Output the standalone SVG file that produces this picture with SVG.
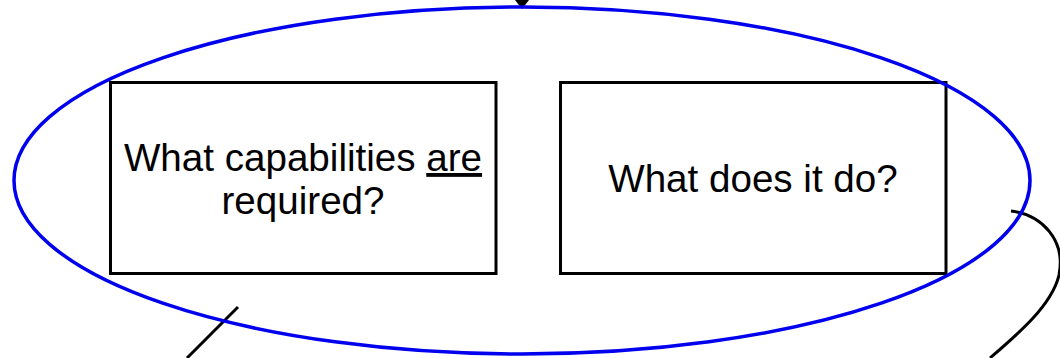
<svg xmlns="http://www.w3.org/2000/svg" width="1060" height="358" viewBox="0 0 1060 358">
<style>
.box{fill:#fff;stroke:#000;stroke-width:3}
.lbl{font-family:"Liberation Sans",Arial,sans-serif;font-size:38.6px;fill:#000;text-anchor:middle}
.conn{fill:none;stroke:#000;stroke-width:3}
</style>
<rect width="1060" height="358" fill="#fff"/>
<g id="connectors">
<path class="conn" d="M522,0 V4"/>
<polygon points="515,0 529,0 522,9" fill="#000"/>
<path class="conn" d="M1011,211 C1042,215 1066,240 1059,275 C1052,305 1018,334 990,358"/>
<path class="conn" d="M238,307 L187,358"/>
</g>
<g id="node-left">
<rect class="box" x="110.5" y="82.5" width="385.5" height="191"/>
<text class="lbl" x="303" y="171">What capabilities <tspan text-decoration="underline">are</tspan></text>
<text class="lbl" x="303" y="214">required?</text>
</g>
<g id="node-right">
<rect class="box" x="560.5" y="82.5" width="385.5" height="191"/>
<text class="lbl" x="753" y="192">What does it do?</text>
</g>
<g id="group-ellipse">
<ellipse cx="522" cy="180.5" rx="508" ry="173.5" fill="none" stroke="#0000ee" stroke-width="3.5"/>
</g>
</svg>
